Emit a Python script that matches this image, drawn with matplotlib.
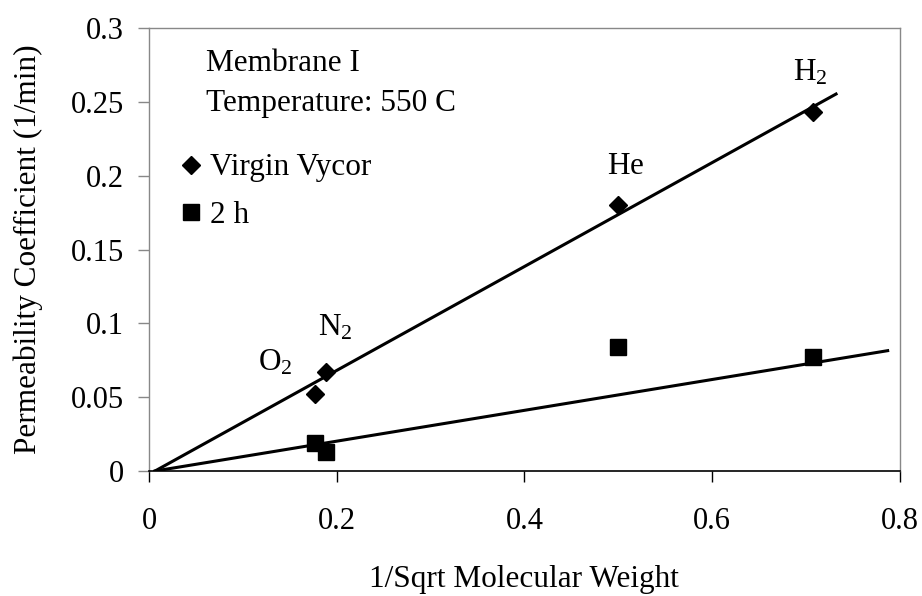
import numpy as np
import matplotlib
matplotlib.use("Agg")
import matplotlib.pyplot as plt

# data
gases = ["O_2", "N_2", "He", "H_2"]
inv_sqrt_mw = [0.177, 0.189, 0.500, 0.707]
virgin = [0.052, 0.067, 0.180, 0.243]
two_h = [0.0187, 0.0131, 0.0842, 0.0774]

# hand-drawn trend lines (start / end)
virgin_fit_x = [0.0064, 0.732]
virgin_fit_y = [0.0, 0.2553]
two_h_fit_x = [0.0064, 0.787]
two_h_fit_y = [0.0, 0.0815]

# where the gas names sit (data coords)
label_x = [0.116, 0.180, 0.488, 0.686]
label_y = [0.073, 0.097, 0.206, 0.270]

plt.rcParams['font.family'] = ['Liberation Serif', 'DejaVu Serif']
plt.rcParams['mathtext.fontset'] = 'custom'
plt.rcParams['mathtext.rm'] = 'Liberation Serif'
plt.rcParams['mathtext.it'] = 'Liberation Serif'

fs = 22.5
tfs = 22

def main():
    fig = plt.figure(figsize=(9.22, 5.96), dpi=100)
    ax = fig.add_axes([0.1616, 0.2097, 0.976 - 0.1616, 0.953 - 0.2097])

    ax.plot(virgin_fit_x, virgin_fit_y, '-', color='black', lw=2.2)
    ax.plot(two_h_fit_x, two_h_fit_y, '-', color='black', lw=2.2)

    ax.plot(inv_sqrt_mw, virgin, 'D', ms=9, color='black', label='Virgin Vycor')
    ax.plot(inv_sqrt_mw, two_h, 's', ms=12, color='black', label='2 h')

    for i, g in enumerate(gases):
        ax.text(label_x[i], label_y[i], r'$\mathregular{%s}$' % g,
                fontsize=fs, ha='left', va='center')

    ax.set_xlim(0, 0.8)
    ax.set_ylim(0, 0.3)
    ax.set_xticks([0, 0.2, 0.4, 0.6, 0.8])
    ax.set_xticklabels(['0', '0.2', '0.4', '0.6', '0.8'])
    ax.set_yticks([0, 0.05, 0.1, 0.15, 0.2, 0.25, 0.3])
    ax.set_yticklabels(['0', '0.05', '0.1', '0.15', '0.2', '0.25', '0.3'])

    ax.tick_params(axis='x', direction='out', length=8, width=1, pad=18, labelsize=tfs)
    ax.tick_params(axis='y', direction='out', length=8, width=1, pad=10, labelsize=tfs, color='#888888')

    for side in ['top', 'right', 'left']:
        ax.spines[side].set_color('#888888')
        ax.spines[side].set_linewidth(1)
    ax.spines['right'].set_linestyle((0, (2, 1)))
    ax.spines['bottom'].set_color('black')
    ax.spines['bottom'].set_linewidth(1.2)

    ax.set_xlabel('1/Sqrt Molecular Weight', fontsize=fs, labelpad=21)
    ax.set_ylabel('Permeability Coefficient (1/min)', fontsize=fs, labelpad=20)

    ax.text(0.0607, 0.276, 'Membrane I', fontsize=fs, va='center', ha='left')
    ax.text(0.0607, 0.249, 'Temperature: 550 C', fontsize=fs, va='center', ha='left')

    ax.legend(loc='upper left', bbox_to_anchor=(0.027, 0.745), frameon=False, fontsize=fs,
              handlelength=0.6, handletextpad=0.3, labelspacing=0.6, borderaxespad=0)

    fig.savefig('out.png', dpi=100)

if __name__ == '__main__':
    main()
